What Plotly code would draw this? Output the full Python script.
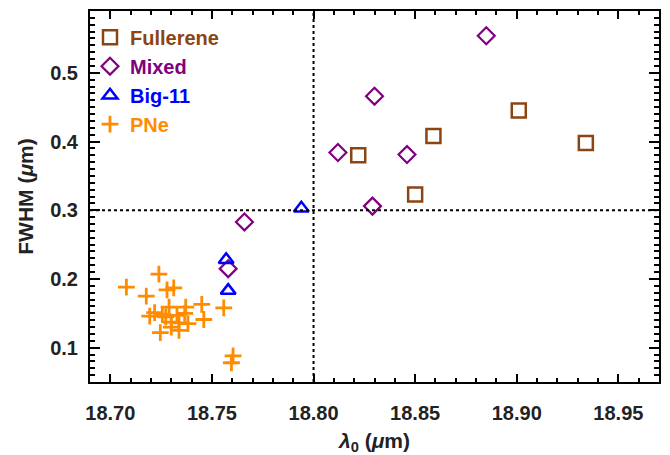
import plotly.graph_objects as go

# ---- data ----
full_x = [18.822, 18.859, 18.850, 18.901, 18.934]
full_y = [0.380, 0.408, 0.323, 0.445, 0.398]

mixed_x = [18.885, 18.830, 18.812, 18.846, 18.829, 18.766, 18.758]
mixed_y = [0.554, 0.466, 0.384, 0.381, 0.306, 0.283, 0.215]

big_x = [18.794, 18.757, 18.758]
big_y = [0.303, 0.228, 0.183]

pne_x = [18.7239, 18.7079, 18.7177, 18.7279, 18.7312, 18.7450, 18.7558, 18.7460,
         18.7289, 18.7371, 18.7218, 18.7194, 18.7256, 18.7273, 18.7328, 18.7366,
         18.7300, 18.7338, 18.7382, 18.7300, 18.7338, 18.7246, 18.7604, 18.7596]
pne_y = [0.207, 0.188, 0.175, 0.184, 0.187, 0.163, 0.158, 0.141,
         0.159, 0.159, 0.151, 0.146, 0.148, 0.145, 0.147, 0.150,
         0.137, 0.136, 0.135, 0.130, 0.125, 0.122, 0.088, 0.078]

x_ref = 18.80
y_ref = 0.30

x_ticks = [18.70, 18.75, 18.80, 18.85, 18.90, 18.95]
y_ticks = [0.1, 0.2, 0.3, 0.4, 0.5]

C_FULL = "#8B4513"
C_MIX = "#800080"
C_BIG = "#0000FF"
C_PNE = "#FF8C00"

fig = go.Figure()

def lbl(text, color):
    return f'<b><span style="color:{color}">{text}</span></b>'

fig.add_trace(go.Scatter(x=full_x, y=full_y, mode="markers", name=lbl("Fullerene", C_FULL),
                         marker=dict(symbol="square-open", size=14, color=C_FULL,
                                     line=dict(width=2.5, color=C_FULL))))
fig.add_trace(go.Scatter(x=mixed_x, y=mixed_y, mode="markers", name=lbl("Mixed", C_MIX),
                         marker=dict(symbol="diamond-open", size=13, color=C_MIX,
                                     line=dict(width=2.2, color=C_MIX))))
fig.add_trace(go.Scatter(x=big_x, y=big_y, mode="markers", name=lbl("Big-11", C_BIG),
                         marker=dict(symbol="triangle-up-open", size=13, color=C_BIG,
                                     line=dict(width=2.5, color=C_BIG))))
fig.add_trace(go.Scatter(x=pne_x, y=pne_y, mode="markers", name=lbl("PNe", C_PNE),
                         marker=dict(symbol="cross-thin", size=12, color=C_PNE,
                                     line=dict(width=2.8, color=C_PNE))))

fig.add_vline(x=x_ref, line=dict(color="black", width=2, dash="dot"))
fig.add_hline(y=y_ref, line=dict(color="black", width=2, dash="dot"))

font_main = "Liberation Sans, Arial, Helvetica, sans-serif"

fig.update_layout(
    width=670, height=455,
    margin=dict(l=90, r=11, t=11, b=73),
    plot_bgcolor="white", paper_bgcolor="white",
    font=dict(family=font_main, size=20, color="#222222"),
    showlegend=True,
    legend=dict(x=0.0, y=0.982, xanchor="left", yanchor="top",
                bgcolor="rgba(0,0,0,0)", font=dict(size=20, family=font_main),
                itemsizing="trace", tracegroupgap=0, itemwidth=30),
)

fig.update_xaxes(
    range=[18.69, 18.97], tickvals=x_ticks, ticktext=[f"{v:.2f}" for v in x_ticks],
    showgrid=False, zeroline=False, showline=True, linecolor="black", linewidth=2,
    mirror="allticks", ticks="inside", ticklen=8, tickwidth=1.5, tickcolor="black",
    minor=dict(dtick=0.01, tick0=18.70, ticks="inside", ticklen=4, tickwidth=1.5, tickcolor="black"),
    tickfont=dict(size=20, family=font_main, color="#222222", weight="bold"),
    ticklabelstandoff=12, automargin=False,
    title=dict(text="<b><i>λ</i><sub>0</sub> (<i>μ</i>m)</b>", font=dict(size=21, color="#222222"), standoff=12),
)
fig.update_yaxes(
    range=[0.05, 0.59], tickvals=y_ticks, ticktext=[f"{v:.1f}" for v in y_ticks],
    showgrid=False, zeroline=False, showline=True, linecolor="black", linewidth=2,
    mirror="allticks", ticks="inside", ticklen=10, tickwidth=1.5, tickcolor="black",
    minor=dict(dtick=0.01, tick0=0.0, ticks="inside", ticklen=5, tickwidth=1.5, tickcolor="black"),
    tickfont=dict(size=20, family=font_main, color="#222222", weight="bold"),
    ticklabelstandoff=6, automargin=False,
    title=dict(text="<b>FWHM (<i>μ</i>m)</b>", font=dict(size=21, color="#222222"), standoff=11),
)

fig.write_html("out.html")
